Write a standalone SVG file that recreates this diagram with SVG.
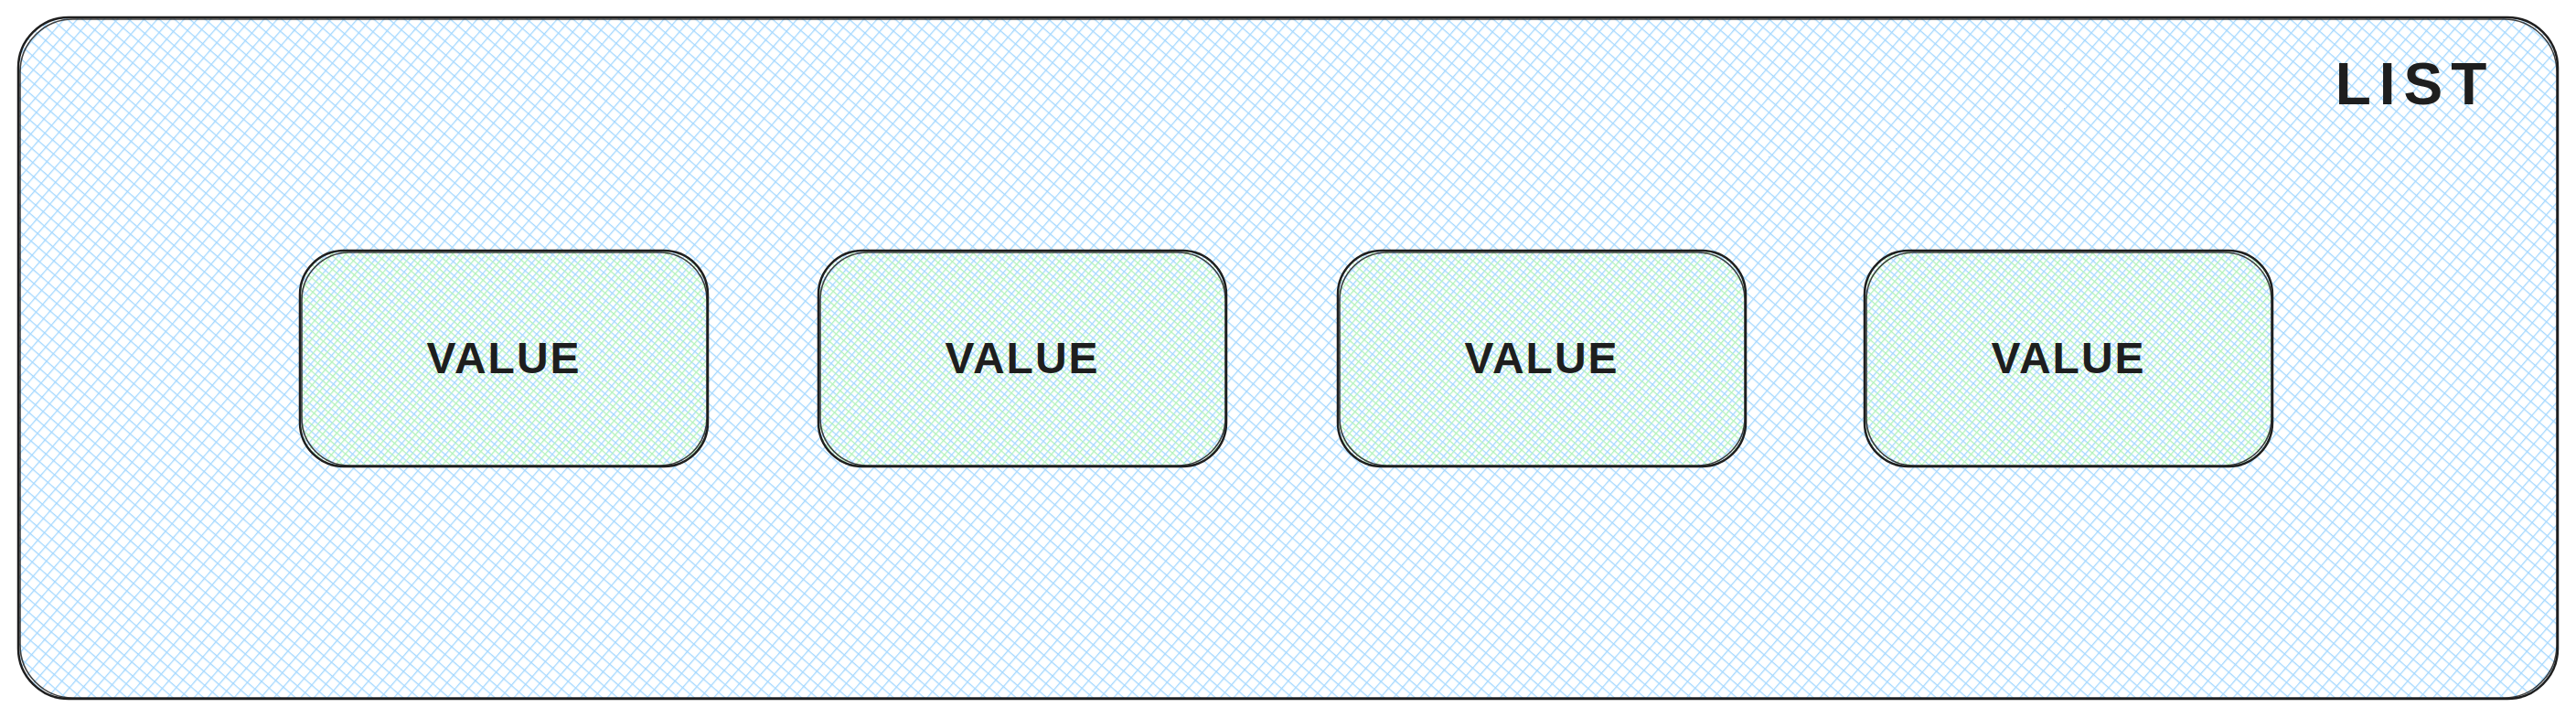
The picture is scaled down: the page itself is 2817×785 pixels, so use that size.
<svg xmlns="http://www.w3.org/2000/svg" width="2817" height="785" viewBox="0 0 2817 785">
<defs>
<pattern id="hBlue" patternUnits="userSpaceOnUse" width="11" height="11" patternTransform="rotate(41)">
<line x1="0" y1="0" x2="0" y2="11" stroke="#a5d8ff" stroke-width="2.6"/>
<line x1="0" y1="0" x2="11" y2="0" stroke="#a5d8ff" stroke-width="2.6"/>
</pattern>
<pattern id="hGreen" patternUnits="userSpaceOnUse" width="11" height="11" patternTransform="rotate(41) translate(5 5)">
<line x1="0" y1="0" x2="0" y2="11" stroke="#b2f2bb" stroke-width="2.6"/>
<line x1="0" y1="0" x2="11" y2="0" stroke="#b2f2bb" stroke-width="2.6"/>
</pattern>
<style>
.edge{fill:none;stroke:#1e1e1e;stroke-width:2.5;stroke-linecap:round}
.edge2{fill:none;stroke:#1e1e1e;stroke-width:1.6;stroke-linecap:round;opacity:0.85}
.lbl{font-family:"Liberation Sans",Arial,sans-serif;font-weight:bold;fill:#1e1e1e;text-anchor:middle;dominant-baseline:central}
</style>
</defs>
<rect width="2817" height="785" fill="#ffffff"/>
<g id="list">
<rect x="20" y="19" width="2777" height="745" rx="55" fill="url(#hBlue)"/>
<rect class="edge" x="20" y="19" width="2777" height="745" rx="55"/>
<rect class="edge2" x="22" y="21" width="2774" height="742" rx="58"/>
<text class="lbl" x="2641" y="92" font-size="64" letter-spacing="9">LIST</text>
</g>
<g id="value1">
<rect x="328" y="274" width="446" height="236" rx="48" fill="url(#hGreen)"/>
<rect class="edge" x="328" y="274" width="446" height="236" rx="48"/>
<rect class="edge2" x="330" y="276" width="443" height="233" rx="52"/>
<text class="lbl" x="551" y="391" font-size="48" letter-spacing="2">VALUE</text>
</g>
<g id="value2">
<rect x="895" y="274" width="446" height="236" rx="48" fill="url(#hGreen)"/>
<rect class="edge" x="895" y="274" width="446" height="236" rx="48"/>
<rect class="edge2" x="897" y="276" width="443" height="233" rx="52"/>
<text class="lbl" x="1118" y="391" font-size="48" letter-spacing="2">VALUE</text>
</g>
<g id="value3">
<rect x="1463" y="274" width="446" height="236" rx="48" fill="url(#hGreen)"/>
<rect class="edge" x="1463" y="274" width="446" height="236" rx="48"/>
<rect class="edge2" x="1465" y="276" width="443" height="233" rx="52"/>
<text class="lbl" x="1686" y="391" font-size="48" letter-spacing="2">VALUE</text>
</g>
<g id="value4">
<rect x="2039" y="274" width="446" height="236" rx="48" fill="url(#hGreen)"/>
<rect class="edge" x="2039" y="274" width="446" height="236" rx="48"/>
<rect class="edge2" x="2041" y="276" width="443" height="233" rx="52"/>
<text class="lbl" x="2262" y="391" font-size="48" letter-spacing="2">VALUE</text>
</g>
<g id="connectors"></g>
</svg>
